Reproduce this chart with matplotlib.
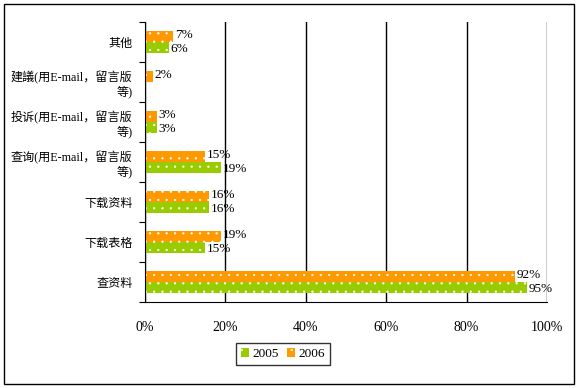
import numpy as np
import matplotlib.pyplot as plt
from matplotlib.patches import Rectangle

plt.rcParams['font.family'] = ['Liberation Serif', 'Noto Sans CJK SC']
plt.rcParams['hatch.color'] = 'white'
plt.rcParams['hatch.linewidth'] = 0.4

categories = ['查资料', '下载表格', '下载资料', '查询(用E-mail，留言版\n等)',
              '投诉(用E-mail，留言版\n等)', '建議(用E-mail，留言版\n等)', '其他']
v2005 = [95, 15, 16, 19, 3, 0, 6]
v2006 = [92, 19, 16, 15, 3, 2, 7]
labels2005 = ['95%', '15%', '16%', '19%', '3%', '', '6%']
labels2006 = ['92%', '19%', '16%', '15%', '3%', '2%', '7%']

fig = plt.figure(figsize=(5.79, 3.88), dpi=100)
ax = fig.add_axes([145 / 579, 1 - 302 / 388, 402 / 579, 280 / 388])

y = np.arange(len(categories))
h = 0.27
ax.barh(y - h / 2, v2005, height=h, color='#99CC00', hatch='..', linewidth=0, label='2005')
ax.barh(y + h / 2, v2006, height=h, color='#FF9900', hatch='..', linewidth=0, label='2006')

for i in range(len(categories)):
    if labels2005[i]:
        ax.text(v2005[i] + 0.4, y[i] - h / 2 - 0.05, labels2005[i], va='center', ha='left', fontsize=9.5)
    if labels2006[i]:
        ax.text(v2006[i] + 0.4, y[i] + h / 2 + 0.05, labels2006[i], va='center', ha='left', fontsize=9.5)

ax.set_xlim(0, 100)
ax.set_ylim(-0.5, len(categories) - 0.5)
ax.set_xticks(np.arange(0, 101, 20))
ax.set_xticklabels([f'{t}%' for t in range(0, 101, 20)], fontsize=10)
ax.set_yticks(np.arange(-0.5, len(categories), 1), minor=False)
ax.set_yticklabels([])
ax.set_yticks(y, minor=True)
ax.set_yticklabels(categories, minor=True, fontsize=8.7)
ax.tick_params(axis='y', which='major', length=4, direction='out')
ax.tick_params(axis='y', which='minor', length=0, pad=9)
ax.tick_params(axis='x', length=0, pad=14)
ax.grid(axis='x', color='black', linewidth=1)
ax.set_axisbelow(True)
ax.spines['top'].set_visible(False)
ax.spines['right'].set_visible(False)

leg = fig.legend(loc='center', bbox_to_anchor=(283 / 579, 1 - 354 / 388), ncol=2,
                 fontsize=9.5, frameon=True, fancybox=False, edgecolor='black',
                 handlelength=0.6, handleheight=0.6, handletextpad=0.3, columnspacing=0.6,
                 borderpad=0.35, borderaxespad=0)
leg.get_frame().set_linewidth(1)

fig.patches.append(Rectangle((4 / 579, 4 / 388), 570 / 579, 380 / 388, transform=fig.transFigure,
                             fill=False, edgecolor='black', linewidth=1))

fig.savefig('out.png', dpi=100)
